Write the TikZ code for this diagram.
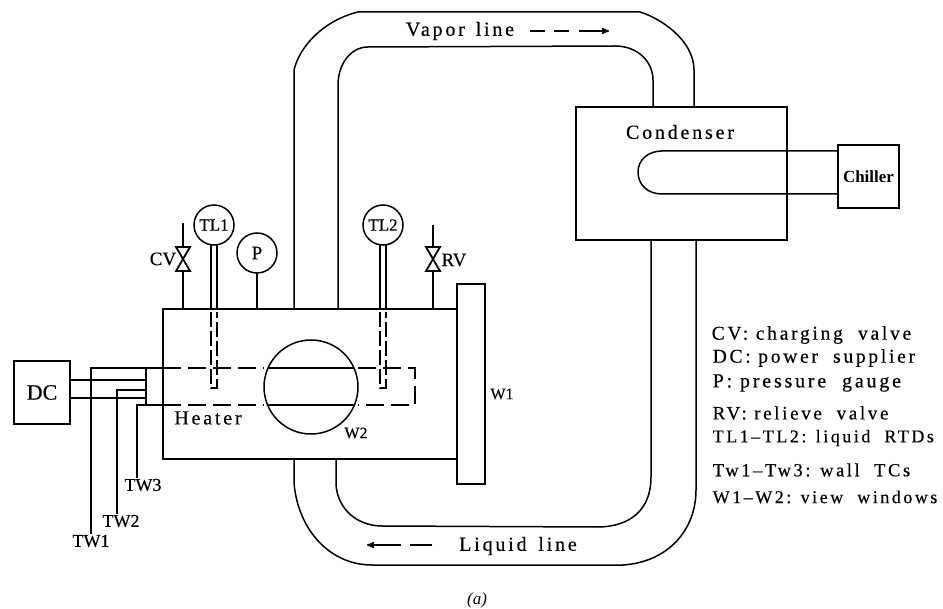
\documentclass[tikz,border=0pt]{standalone}
\usepackage{fontspec}
\setmainfont{Liberation Serif}
\newfontfamily\spacedfont{Liberation Serif}[LetterSpace=14,FakeBold=0.4]
\newfontfamily\plainfont{Liberation Serif}[FakeBold=0.4]
\usetikzlibrary{arrows,calc}
\tikzset{legend/.style={inner sep=0pt, anchor=west, font=\fontsize{#1}{#1}\selectfont\spacedfont}}

\begin{document}
\begin{tikzpicture}[>=stealth',x=1pt,y=-1pt,line width=1.5pt]

\tikzstyle{box}=[rectangle, draw, inner sep=0pt, outer sep=0pt, line width=1.7pt]
\tikzstyle{gauge}=[circle, draw, inner sep=0pt, outer sep=0pt, minimum size=40pt, font=\fontsize{17}{17}\selectfont\plainfont]
\tikzstyle{tag}=[inner sep=0pt, font=\fontsize{20}{20}\selectfont\spacedfont]
\tikzstyle{shorttag}=[inner sep=0pt, font=\fontsize{19}{19}\selectfont\plainfont]
\tikzstyle{wiretag}=[inner sep=0pt, font=\fontsize{18}{18}\selectfont\plainfont]
\tikzstyle{wintag}=[inner sep=0pt, font=\fontsize{16}{16}\selectfont\plainfont]
\tikzstyle{dashheater}=[dash pattern=on 18pt off 7pt]
\tikzstyle{dashprobe}=[dash pattern=on 15pt off 4pt, line width=1.3pt]

\useasboundingbox (0,0) rectangle (943,609);

%pipes behind the boxes
\node[box, minimum width=294pt, minimum height=150pt] (vessel) at (310,384) {};
\node[box, minimum width=28pt, minimum height=200pt, fill=white] (winone) at (471,384) {};
\node[box, minimum width=211pt, minimum height=133pt] (condenser) at (681.5,173.5) {};
\node[box, minimum width=61pt, minimum height=63pt] (chiller) at (868.5,176.5) {};
\node[box, minimum width=56pt, minimum height=63pt, font=\fontsize{22}{22}\selectfont\plainfont] (dc) at (42,392.5) {DC};
\node[box, minimum width=17pt, minimum height=37pt] (block) at (154.5,386.5) {};

%vapor line
\draw (294,0 |- vessel.north) -- (294,70)
.. controls (300,45) and (325,20) .. (358,12)
-- (640,12)
.. controls (660,18) and (694,40) .. (694,70)
-- (694,0 |- condenser.north);
\draw (338,0 |- vessel.north) -- (338,85)
.. controls (338,65) and (350,47) .. (368,47)
-- (615,46)
.. controls (638,46) and (653,62) .. (653,80)
-- (653,0 |- condenser.north);

%liquid line
\draw (294,0 |- vessel.south) -- (294,483)
.. controls (298,530) and (330,565) .. (372,565)
-- (623,565)
.. controls (668,562) and (696,530) .. (696,490)
-- (696,0 |- condenser.south);
\draw (336,0 |- vessel.south) -- (336,485)
.. controls (338,510) and (358,526) .. (382,526)
-- (597,527)
.. controls (630,527) and (651,510) .. (651,477)
-- (651,0 |- condenser.south);

%chiller coil
\draw (chiller.west |- 0,151) -- (662,151)
.. controls (648,151) and (638,160) .. (638,172)
.. controls (638,185) and (648,194) .. (662,194)
-- (chiller.west |- 0,194);

%heater
\draw[dashheater] (block.north east) -- (264,368);
\draw[dashheater] (block.south east) -- (264,405);
\draw[dashheater] (358,368) -- (415,368) -- (415,405) -- (358,405);

%gauges
\node[gauge] (tlone) at (214,225) {TL1};
\node[gauge] (tltwo) at (383,225) {TL2};
\node[gauge, font=\fontsize{19}{19}\selectfont\plainfont] (press) at (257,253) {P};

\foreach \gauge in {tlone,tltwo} {
\foreach \dx in {-3,3} {
\draw ($(\gauge.south)+(\dx,0)$) -- ($(\gauge |- vessel.north)+(\dx,0)$);
}
\draw[dashprobe] ($(\gauge |- vessel.north)+(-3,3)$) -- ++(0,76) -- ++(6,0) -- ++(0,-76);
}
\draw (press.south) -- (press |- vessel.north);

%window
\node[circle, draw, fill=white, inner sep=0pt, outer sep=0pt, minimum size=94pt] (wintwo) at (311,387) {};
\draw (268,368) -- (354,368);
\draw (268,405) -- (354,405);

%valves
\coordinate (cvvalve) at (183,259);
\coordinate (rvvalve) at (433,259);
\coordinate (cvtop) at (183,223);
\coordinate (rvtop) at (433,225);
\draw (cvtop) -- ($(cvvalve)+(0,-12)$);
\draw (rvtop) -- ($(rvvalve)+(0,-12)$);
\draw ($(cvvalve)+(0,12)$) -- (cvvalve |- vessel.north);
\draw ($(rvvalve)+(0,12)$) -- (rvvalve |- vessel.north);
\foreach \valve in {cvvalve,rvvalve} {
\draw[line width=1.8pt] ($(\valve)+(-7,-12)$) -- ($(\valve)+(7,-12)$) -- ($(\valve)+(-7,12)$) -- ($(\valve)+(7,12)$) -- cycle;
}

%labels
\node[tag] (vaporlabel) at (460,31) {Vapor\hspace{3pt} line};
\node[tag] (liquidlabel) at (518,546) {Liquid\hspace{4pt} line};
\node[tag] (condlabel) at (680,132) {Condenser};
\node[tag] (heaterlabel) at (208,418) {Heater};
\node[inner sep=0pt, font=\fontsize{17}{17}\selectfont\bfseries] (chilllabel) at (chiller) {Chiller};
\node[shorttag] (cvlabel) at (163,259) {CV};
\node[shorttag] (rvlabel) at (454,260) {RV};
\node[wintag] (wonelabel) at (502,394) {W1};
\node[wintag] (wtwolabel) at (356,433) {W2};
\node[wiretag] (twone) at (91,541) {TW1};
\node[wiretag] (twtwo) at (121,521) {TW2};
\node[wiretag] (twthree) at (143,485) {TW3};

%heater leads
\draw (dc.east |- 0,380) -- (block.west |- 0,380);
\draw (dc.east |- 0,398) -- (block.west |- 0,398);
\draw (block.north west) -| (twone.north);
\draw (block.west |- 0,390) -| ($(twtwo.north)+(-4,0)$);
\draw (block.south west) -| ($(twthree.north)+(-6,0)$);

%flow arrows
\coordinate (vaporstart) at (530,31);
\coordinate (vaporend) at (609,31);
\coordinate (liquidstart) at (432,545);
\coordinate (liquidend) at (367,545);
\draw[->,dash pattern=on 15pt off 9pt on 15pt off 10pt on 40pt off 0pt] (vaporstart) -- (vaporend);
\draw[->,dash pattern=on 22pt off 9pt on 40pt off 0pt] (liquidstart) -- (liquidend);

%key
\node[legend=19.5] (keycv) at (711,335) {CV: charging\ \ valve};
\node[legend=19.5] (keydc) at (712,358) {DC: power\ \ supplier};
\node[legend=20] (keyp) at (712,383) {P: pressure\hspace{8pt} gauge};
\node[legend=19] (keyrv) at (712,413) {RV: relieve\ \ valve};
\node[legend=18] (keytl) at (712,438) {TL1–TL2: liquid\ \ RTDs};
\node[legend=18.5] (keytw) at (712,470) {Tw1–Tw3: wall\ \ TCs};
\node[legend=18] (keyw) at (712,497) {W1–W2: view\ \ windows};

\node[inner sep=0pt, font=\fontsize{17}{17}\selectfont\itshape] (caption) at (477,600) {(a)};

\end{tikzpicture}
\end{document}
